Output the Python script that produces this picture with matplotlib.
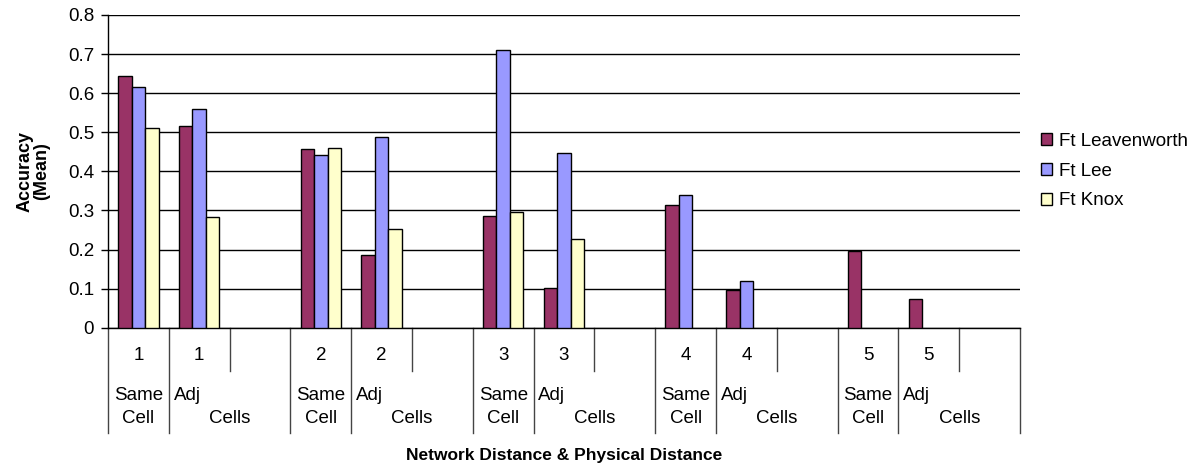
import numpy as np
import matplotlib.pyplot as plt
from matplotlib.patches import Patch

# mean accuracy per (network distance, physical distance) slot; NaN = empty slot
net_dist = [1, 1, None, 2, 2, None, 3, 3, None, 4, 4, None, 5, 5, None]
leavenworth = [0.643, 0.515, np.nan, 0.456, 0.185, np.nan, 0.286, 0.102, np.nan,
               0.313, 0.097, np.nan, 0.197, 0.073, np.nan]
lee = [0.615, 0.560, np.nan, 0.442, 0.488, np.nan, 0.710, 0.446, np.nan,
       0.340, 0.120, np.nan, 0, 0, np.nan]
knox = [0.510, 0.283, np.nan, 0.461, 0.253, np.nan, 0.295, 0.227, np.nan,
        0, 0, np.nan, 0, 0, np.nan]
series_names = ['Ft Leavenworth', 'Ft Lee', 'Ft Knox']
colors = ['#993366', '#9999FF', '#FFFFCC']

plt.rcParams['font.family'] = ['Liberation Sans', 'DejaVu Sans']
fs = 13.5
plt.rcParams['font.size'] = fs

fig = plt.figure(figsize=(12.01, 4.66), dpi=100)
ax = fig.add_axes([108/1201, 1 - 327.7/466, 912/1201, 312.7/466])

n = len(net_dist)
x = np.arange(n)
w = 1 / 4.5  # excel gap width 150%
for i, (vals, c) in enumerate(zip([leavenworth, lee, knox], colors)):
    v = np.array(vals, dtype=float)
    m = ~np.isnan(v) & (v > 0)
    ax.bar(x[m] + (i - 1) * w, v[m], width=w, color=c, edgecolor='black',
           linewidth=1, zorder=3)

ax.set_xlim(-0.5, n - 0.5)
ax.set_ylim(0, 0.8)
ax.set_yticks(np.arange(0, 0.81, 0.1))
ax.set_yticklabels(['0'] + ['%.1f' % t for t in np.arange(0.1, 0.81, 0.1)])
ax.yaxis.grid(True, color='black', linewidth=1)
ax.set_axisbelow(True)
ax.tick_params(axis='y', length=5, width=1, pad=5, labelsize=fs)
ax.set_xticks([])
for s in ['top', 'right']:
    ax.spines[s].set_visible(False)
ax.spines['left'].set_linewidth(1)
ax.spines['bottom'].set_linewidth(1)

ax.set_ylabel('Accuracy\n(Mean)', fontweight='bold', fontsize=13,
              linespacing=0.95, labelpad=13)

# two-level category axis below the plot
trans = ax.get_xaxis_transform()
short_end, long_end = -0.138, -0.338
for k in range(n + 1):
    bx = k - 0.5
    y_end = short_end if k % 3 == 2 else long_end
    ax.plot([bx, bx], [0, y_end], color='#444444', linewidth=1,
            transform=trans, clip_on=False)

for k, d in enumerate(net_dist):
    if d is not None:
        ax.text(k, -0.088, str(d), transform=trans, ha='center', va='center')

for g in range(5):
    s = g * 3
    ax.text(s, -0.217, 'Same', transform=trans, ha='center', va='center')
    ax.text(s, -0.29, 'Cell', transform=trans, ha='center', va='center')
    ax.text(s + 0.58, -0.217, 'Adj', transform=trans, ha='left', va='center')
    ax.text(s + 1.5, -0.29, 'Cells', transform=trans, ha='center', va='center')

ax.text(0.5, -0.41, 'Network Distance & Physical Distance', transform=ax.transAxes,
        ha='center', va='center', fontweight='bold', fontsize=12.5)

handles = [Patch(facecolor=c, edgecolor='black', linewidth=1) for c in colors]
fig.legend(handles, series_names, loc='center left',
           bbox_to_anchor=(1041/1201, 1 - 171/466), frameon=False,
           borderpad=0, borderaxespad=0,
           handlelength=0.6, handleheight=0.6, handletextpad=0.35,
           labelspacing=0.68, fontsize=fs)

fig.savefig('out.png', dpi=100)
